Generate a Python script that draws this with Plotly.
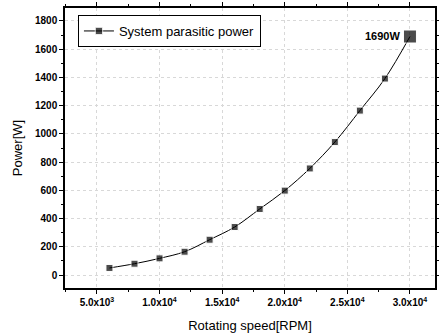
import plotly.graph_objects as go

speed_rpm = [6000, 8000, 10000, 12000, 14000, 16000, 18000, 20000, 22000, 24000, 26000, 28000, 30000]
power_w = [50, 80, 118, 165, 250, 340, 468, 598, 755, 942, 1165, 1392, 1690]

x_tick_vals = [5000, 10000, 15000, 20000, 25000, 30000]
x_tick_text = ["5.0x10<sup>3</sup>", "1.0x10<sup>4</sup>", "1.5x10<sup>4</sup>",
               "2.0x10<sup>4</sup>", "2.5x10<sup>4</sup>", "3.0x10<sup>4</sup>"]
y_tick_vals = [0, 200, 400, 600, 800, 1000, 1200, 1400, 1600, 1800]
series_name = "System parasitic power"
peak_label = "1690W"

FONT = "Liberation Sans, Arial, sans-serif"

fig = go.Figure()
fig.add_trace(go.Scatter(
    x=speed_rpm, y=power_w, mode="lines+markers", name=series_name,
    line=dict(color="black", width=1, shape="spline"),
    marker=dict(symbol="square", size=[7] * (len(speed_rpm) - 1) + [13], color="black"),
))

fig.add_annotation(
    x=speed_rpm[-1], y=power_w[-1], text=peak_label, showarrow=False,
    xanchor="right", xshift=-8, yshift=1,
    font=dict(family=FONT, size=11, color="black", weight="bold"),
)

fig.update_layout(
    width=439, height=336,
    margin=dict(l=65, r=4, t=8, b=48),
    paper_bgcolor="white", plot_bgcolor="white",
    font=dict(family=FONT, color="black"),
    showlegend=True,
    legend=dict(x=0.035, y=0.975, xanchor="left", yanchor="top",
                bordercolor="black", borderwidth=1, bgcolor="white",
                font=dict(size=13, family=FONT), itemwidth=30,
                tracegroupgap=0),
)

axis_common = dict(
    showline=True, linecolor="black", linewidth=1.5, mirror="ticks",
    ticks="outside", ticklen=4, tickwidth=1, tickcolor="black",
    showgrid=True, gridcolor="#d8d8d8", griddash="dot", gridwidth=1,
    zeroline=False, automargin=False,
)

fig.update_xaxes(
    **axis_common,
    range=[2450, 32000],
    tickvals=x_tick_vals, ticktext=x_tick_text,
    tickfont=dict(size=10, family=FONT, weight="bold"),
    minor=dict(dtick=2500, tick0=0, ticks="outside", ticklen=2, tickcolor="black", showgrid=False),
    title=dict(text="Rotating speed[RPM]", font=dict(size=13, family=FONT), standoff=14),
)
fig.update_yaxes(
    **axis_common,
    range=[-92, 1892],
    tickvals=y_tick_vals,
    tickfont=dict(size=10, family=FONT, weight="bold"),
    minor=dict(dtick=100, tick0=0, ticks="outside", ticklen=2, tickcolor="black", showgrid=False),
    title=dict(text="Power[W]", font=dict(size=13, family=FONT), standoff=9),
)

fig.write_html("out.html", config={"displayModeBar": False},
               post_script="document.body.style.margin='0';document.body.style.padding='0';")
